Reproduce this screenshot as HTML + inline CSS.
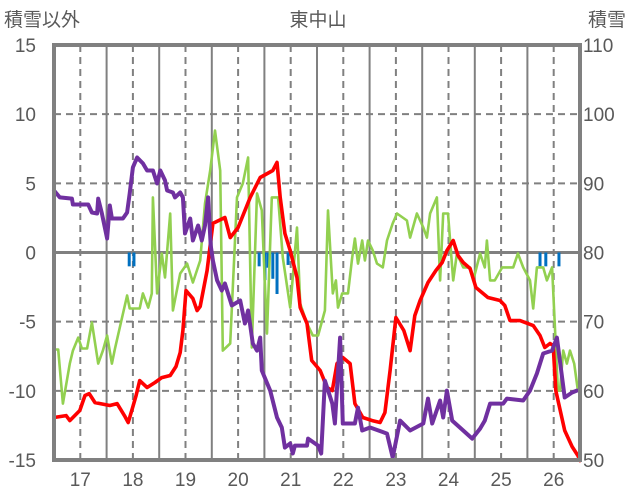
<!DOCTYPE html>
<html><head><meta charset="utf-8"><style>
html,body{margin:0;padding:0;background:#fff;width:636px;height:501px;overflow:hidden}
svg text{font-family:"Liberation Sans","Noto Sans CJK JP",sans-serif;fill:#595959}
</style></head><body>
<svg id="chart" width="636" height="501" xmlns="http://www.w3.org/2000/svg">
<g id="grid"></g>
<g id="bars"></g>
<g id="lines"></g>
<rect x="54" y="45" width="526" height="415" fill="none" stroke="#808080" stroke-width="4"/>
<text x="318" y="26" font-size="19" text-anchor="middle">東中山</text>
<text x="4" y="26" font-size="19">積雪以外</text>
<text x="588" y="26" font-size="19">積雪</text>
<g id="ticks"></g>
</svg>
<script>
const leftTicks=[15,10,5,0,-5,-10,-15];
const rightTicks=[110,100,90,80,70,60,50];
const xTicks=[17,18,19,20,21,22,23,24,25,26];
const redX=[16.50,16.73,16.80,16.99,17.09,17.17,17.28,17.56,17.70,17.85,17.91,18.00,18.06,18.13,18.27,18.42,18.55,18.71,18.82,18.90,18.95,19.01,19.14,19.22,19.28,19.41,19.52,19.75,19.85,20.00,20.23,20.42,20.66,20.74,20.80,20.89,20.99,21.12,21.18,21.31,21.40,21.56,21.69,21.79,21.88,21.99,22.13,22.22,22.37,22.55,22.70,22.79,22.89,23.00,23.15,23.27,23.36,23.46,23.61,23.76,23.88,23.97,24.09,24.18,24.28,24.41,24.52,24.75,24.98,25.07,25.17,25.36,25.61,25.74,25.83,25.93,25.99,26.04,26.21,26.35,26.46,26.50];
const redY=[-11.93,-11.79,-12.15,-11.42,-10.34,-10.20,-10.85,-11.06,-10.92,-11.86,-12.29,-11.14,-10.34,-9.26,-9.76,-9.40,-9.04,-8.89,-8.24,-7.23,-5.64,-2.75,-3.33,-4.19,-3.90,-1.30,2.10,2.53,1.08,1.81,3.98,5.42,5.93,6.51,3.98,1.37,0.14,-1.81,-3.98,-5.13,-7.81,-8.53,-9.76,-9.98,-8.03,-7.59,-8.03,-10.92,-11.93,-12.15,-12.29,-11.57,-8.53,-4.70,-5.64,-7.09,-4.56,-3.47,-2.17,-1.30,-0.72,0.14,0.87,-0.22,-0.72,-1.16,-2.53,-3.25,-3.47,-3.83,-4.92,-4.92,-5.28,-6.00,-6.87,-6.58,-6.72,-9.98,-12.87,-14.03,-14.68,-15.04];
const purpleX=[16.50,16.61,16.84,16.86,17.15,17.22,17.32,17.34,17.41,17.51,17.56,17.60,17.81,17.89,17.94,18.00,18.08,18.19,18.27,18.38,18.46,18.52,18.61,18.65,18.76,18.80,18.90,18.95,18.99,19.09,19.14,19.24,19.31,19.37,19.43,19.48,19.52,19.60,19.69,19.75,19.88,20.04,20.13,20.19,20.28,20.36,20.42,20.45,20.61,20.74,20.83,20.89,20.99,21.04,21.08,21.31,21.33,21.52,21.58,21.65,21.79,21.84,21.94,21.99,22.22,22.28,22.36,22.51,22.83,22.94,23.08,23.27,23.52,23.61,23.69,23.84,23.90,23.97,24.07,24.28,24.45,24.60,24.69,24.79,25.04,25.11,25.42,25.55,25.68,25.80,25.97,26.06,26.16,26.21,26.35,26.44];
const purpleY=[4.48,3.98,3.90,3.47,3.47,2.89,2.82,3.90,2.82,1.01,3.40,2.46,2.46,2.89,4.27,6.15,6.87,6.44,5.93,5.93,4.99,5.93,5.21,4.48,4.34,3.98,4.34,3.98,1.37,2.46,0.87,1.95,0.87,1.95,3.98,0.51,-0.58,-2.02,-2.75,-2.24,-3.83,-3.47,-5.13,-4.19,-6.58,-7.09,-6.15,-8.53,-9.98,-11.93,-12.65,-14.10,-13.81,-14.53,-13.96,-13.96,-13.45,-13.96,-14.53,-9.26,-10.92,-12.36,-6.15,-12.36,-12.36,-11.21,-12.87,-12.65,-13.09,-14.82,-12.15,-12.87,-12.36,-10.56,-12.36,-10.70,-11.93,-9.98,-12.15,-12.87,-13.45,-12.73,-12.15,-10.92,-10.92,-10.56,-10.70,-9.98,-8.75,-7.30,-7.09,-6.15,-9.04,-10.48,-10.12,-9.98];
const greenX=[16.50,16.58,16.67,16.80,16.86,16.96,17.03,17.13,17.22,17.34,17.43,17.51,17.60,17.66,17.89,17.94,18.13,18.19,18.29,18.36,18.38,18.46,18.55,18.61,18.71,18.76,18.90,19.03,19.14,19.28,19.37,19.47,19.56,19.66,19.71,19.85,19.98,20.09,20.19,20.26,20.36,20.45,20.55,20.64,20.76,20.85,20.99,21.12,21.18,21.31,21.42,21.52,21.65,21.71,21.80,21.86,21.90,21.98,22.09,22.17,22.22,22.28,22.36,22.41,22.47,22.56,22.64,22.75,22.83,22.94,23.02,23.21,23.27,23.40,23.52,23.59,23.65,23.78,23.84,23.90,23.99,24.09,24.16,24.28,24.41,24.47,24.60,24.69,24.73,24.79,24.88,25.02,25.23,25.32,25.42,25.55,25.61,25.68,25.80,25.87,25.97,26.08,26.12,26.18,26.25,26.31,26.39,26.46];
const greenY=[-7.01,-7.01,-10.92,-8.03,-7.09,-6.15,-6.94,-6.94,-5.06,-8.03,-7.09,-6.00,-8.03,-6.94,-3.11,-4.05,-4.05,-2.96,-3.98,-2.96,3.98,-2.96,-0.07,-1.81,2.82,-4.19,-1.52,-0.80,-2.17,-0.58,3.54,5.93,8.82,5.93,-7.09,-6.58,3.98,4.99,6.87,-6.87,4.27,3.04,-5.86,3.98,3.98,-0.36,-3.98,1.81,-3.69,-5.13,-6.00,-6.00,-4.19,3.04,-2.96,-2.02,-3.98,-2.96,-2.96,-0.36,1.01,-0.80,0.87,-0.58,0.87,0.14,-0.80,-1.08,0.87,2.10,2.82,2.31,1.08,2.82,1.81,1.08,2.82,3.98,-2.02,2.82,2.82,-2.02,-0.07,-1.08,-1.08,-2.02,-0.07,-1.08,0.87,-2.02,-2.02,-1.08,-1.08,-0.07,-1.08,-2.02,-4.05,-1.08,-1.08,-2.02,-1.08,-9.98,-9.98,-7.09,-8.03,-7.09,-8.03,-9.98];
const snowX=[17.93,18.02,20.40,20.51,20.57,20.66,20.74,20.95,25.74,25.85,26.10];
const snowY=[-1.0,-1.0,-1.0,-2.0,-1.1,-1.9,-3.0,-0.9,-1.0,-1.0,-1.0];

const NS='http://www.w3.org/2000/svg';
const X0=54,X1=580,Y0=45,Y1=460;
function xs(v){return X0+(v-16.5)*(X1-X0)/10;}
function ys(v){return Y1-(v+15)*(Y1-Y0)/30;}
function mk(tag,attrs,parent){const e=document.createElementNS(NS,tag);for(const k in attrs)e.setAttribute(k,attrs[k]);parent.appendChild(e);return e;}
const grid=document.getElementById('grid');
for(let i=0;i<10;i++){
  const ln=mk('line',{x1:xs(i+17),x2:xs(i+17),y1:Y0,y2:Y1,stroke:'#808080','stroke-width':2,'stroke-dasharray':'7,5'},grid);
  
  
  if(i<9){const s=mk('line',{x1:xs(i+17.5),x2:xs(i+17.5),y1:Y0,y2:Y1,stroke:'#808080','stroke-width':2},grid);
  
  }
}
leftTicks.forEach(v=>{
  if(v===15||v===-15)return;
  const ln=mk('line',{x1:X0,x2:X1,y1:ys(v),y2:ys(v),stroke:'#808080','stroke-width':v===0?3:2,'stroke-dasharray':v===0?'none':'7,5'},grid);
  
  
});
const bars=document.getElementById('bars');
snowX.forEach((x,i)=>{
  const r=mk('rect',{x:xs(x)-1.5,y:ys(0),width:3,height:ys(snowY[i])-ys(0),fill:'#0070c0'},bars);
  
  
});
const lines=document.getElementById('lines');
function line(xa,ya,color,w,name){
  const d=xa.map((x,i)=>(i?'L':'M')+xs(x).toFixed(1)+' '+ys(ya[i]).toFixed(1)).join(' ');
  const p=mk('path',{d:d,fill:'none',stroke:color,'stroke-width':w,'stroke-linejoin':'round','stroke-linecap':'round'},lines);
  
  
}
line(greenX,greenY,'#92d050',2.6,'green-series');
line(redX,redY,'#ff0000',3.6,'red-series');
line(purpleX,purpleY,'#7030a0',4,'purple-series');
const ticks=document.getElementById('ticks');
leftTicks.forEach(v=>{
  const t=mk('text',{x:36,y:ys(v)+7,'font-size':19,'text-anchor':'end'},ticks);
  t.textContent=v;
  
  
});
rightTicks.forEach((v,i)=>{
  const t=mk('text',{x:583,y:ys(leftTicks[i])+7,'font-size':19},ticks);
  t.textContent=v;
  
  
});
xTicks.forEach(v=>{
  const t=mk('text',{x:xs(v),y:486,'font-size':19,'text-anchor':'middle'},ticks);
  t.textContent=v;
  
  
});
</script>
</body></html>
